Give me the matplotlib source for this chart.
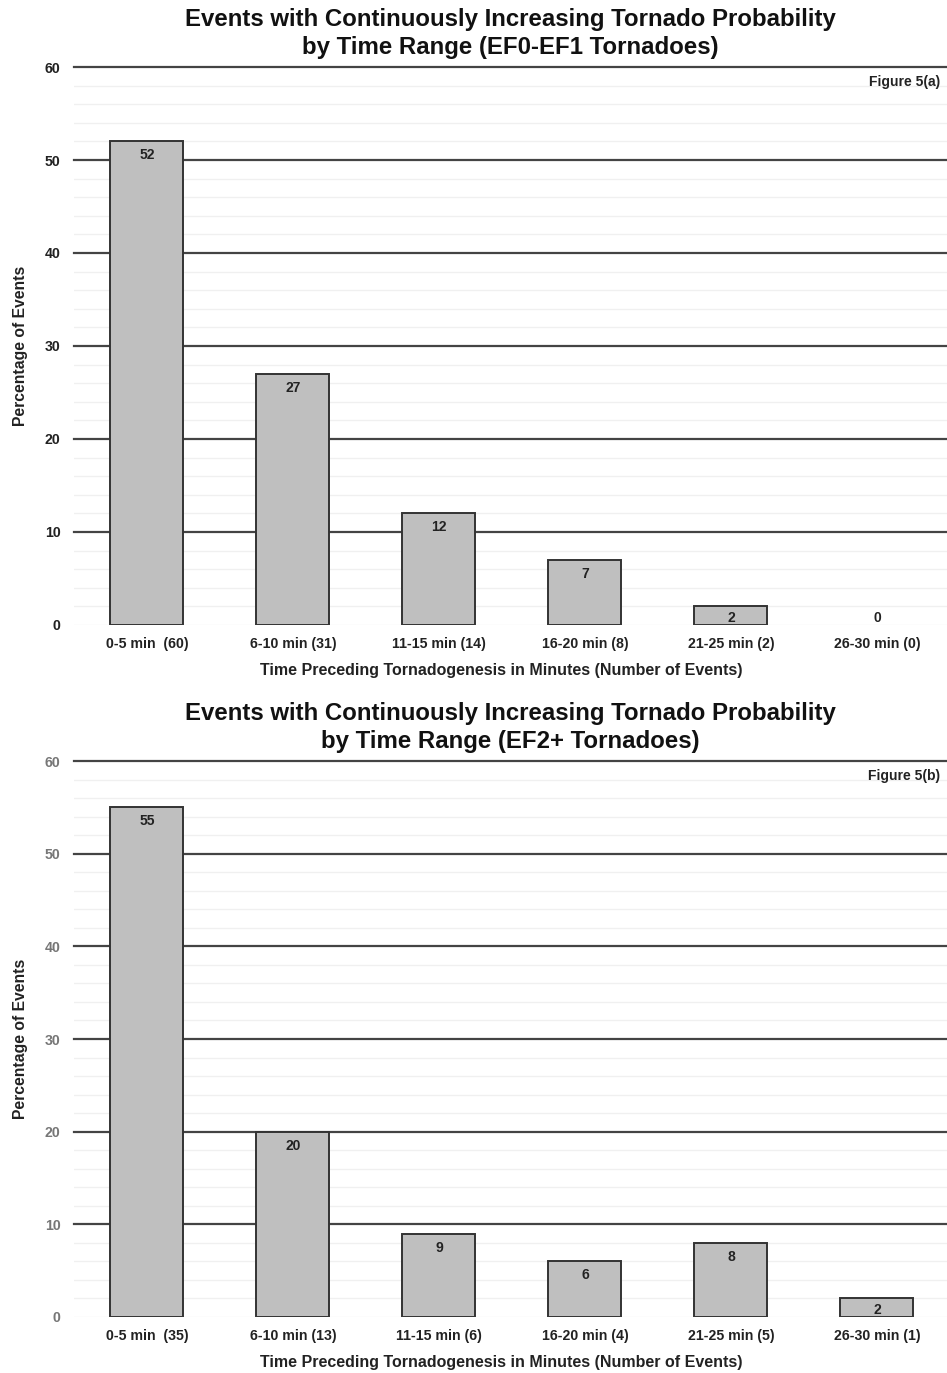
import numpy as np
import matplotlib
matplotlib.use('Agg')
import matplotlib.pyplot as plt

# percentage of events per time range, with the number of events in each range
ranges = ["0-5 min", "6-10 min", "11-15 min", "16-20 min", "21-25 min", "26-30 min"]
ef01_pct = [52, 27, 12, 7, 2, 0]
ef01_counts = [60, 31, 14, 8, 2, 0]
ef2_pct = [55, 20, 9, 6, 8, 2]
ef2_counts = [35, 13, 6, 4, 5, 1]

plt.rcParams['font.family'] = ['Liberation Sans', 'DejaVu Sans']
plt.rcParams['font.weight'] = 'bold'

fig = plt.figure(figsize=(9.47, 13.73), dpi=100)


def tick_labels(counts):
    # first label has an extra space in the source charts
    labels = []
    for i, (r, c) in enumerate(zip(ranges, counts)):
        sep = "  " if i == 0 else " "
        labels.append(r + sep + "(" + str(c) + ")")
    return labels


def draw_panel(rect, pct, counts, title, tag, tick_color):
    ax = fig.add_axes(rect)
    x = np.arange(len(ranges))

    # light minor grid every 2 %, dark major grid every 10 %
    for yv in np.arange(0, 61, 2):
        if yv % 10 == 0 and yv != 0:
            ax.axhline(yv, color='#444444', lw=1.6, zorder=1, clip_on=False)
        else:
            ax.axhline(yv, color='#f0f0f0', lw=1.0, zorder=0)

    # empty bins get no outline
    widths = [1.4 if v > 0 else 0 for v in pct]
    ax.bar(x, pct, width=0.5, color='#bfbfbf', edgecolor='#333333', linewidth=widths, zorder=2)
    for xi, v in zip(x, pct):
        ax.text(xi, max(v - 0.75, 1.5), str(v), ha='center', va='top',
                fontsize=10, fontweight='bold', color='#222222', zorder=3)

    ax.set_xlim(-0.5, 5.48)
    ax.set_ylim(0, 60)
    ax.set_yticks(np.arange(0, 61, 10))
    ax.set_xticks(x)
    ax.set_xticklabels(tick_labels(counts))
    ax.tick_params(axis='both', length=0, labelsize=10.2, pad=9)
    ax.tick_params(axis='y', labelcolor=tick_color, pad=9.5)
    ax.tick_params(axis='x', labelcolor='#222222')
    for s in ax.spines.values():
        s.set_visible(False)

    ax.set_xlabel("Time Preceding Tornadogenesis in Minutes (Number of Events)",
                  fontsize=11.5, fontweight='bold', color='#222222')
    ax.xaxis.set_label_coords(0.49, -0.068)
    ax.set_ylabel("Percentage of Events", fontsize=11.3, fontweight='bold',
                  color='#222222', labelpad=12)
    ax.set_title(title, fontsize=17.3, fontweight='bold', color='#111111',
                 pad=9.5, linespacing=1.25)
    ax.text(0.992, 0.985, tag, transform=ax.transAxes, ha='right', va='top',
            fontsize=10, fontweight='bold', color='#222222')
    return ax


draw_panel([0.078, 0.5448, 0.922, 0.4064], ef01_pct, ef01_counts,
           "Events with Continuously Increasing Tornado Probability\nby Time Range (EF0-EF1 Tornadoes)",
           "Figure 5(a)", '#222222')
draw_panel([0.078, 0.0408, 0.922, 0.4049], ef2_pct, ef2_counts,
           "Events with Continuously Increasing Tornado Probability\nby Time Range (EF2+ Tornadoes)",
           "Figure 5(b)", '#777777')

fig.savefig("out.png", dpi=100)
